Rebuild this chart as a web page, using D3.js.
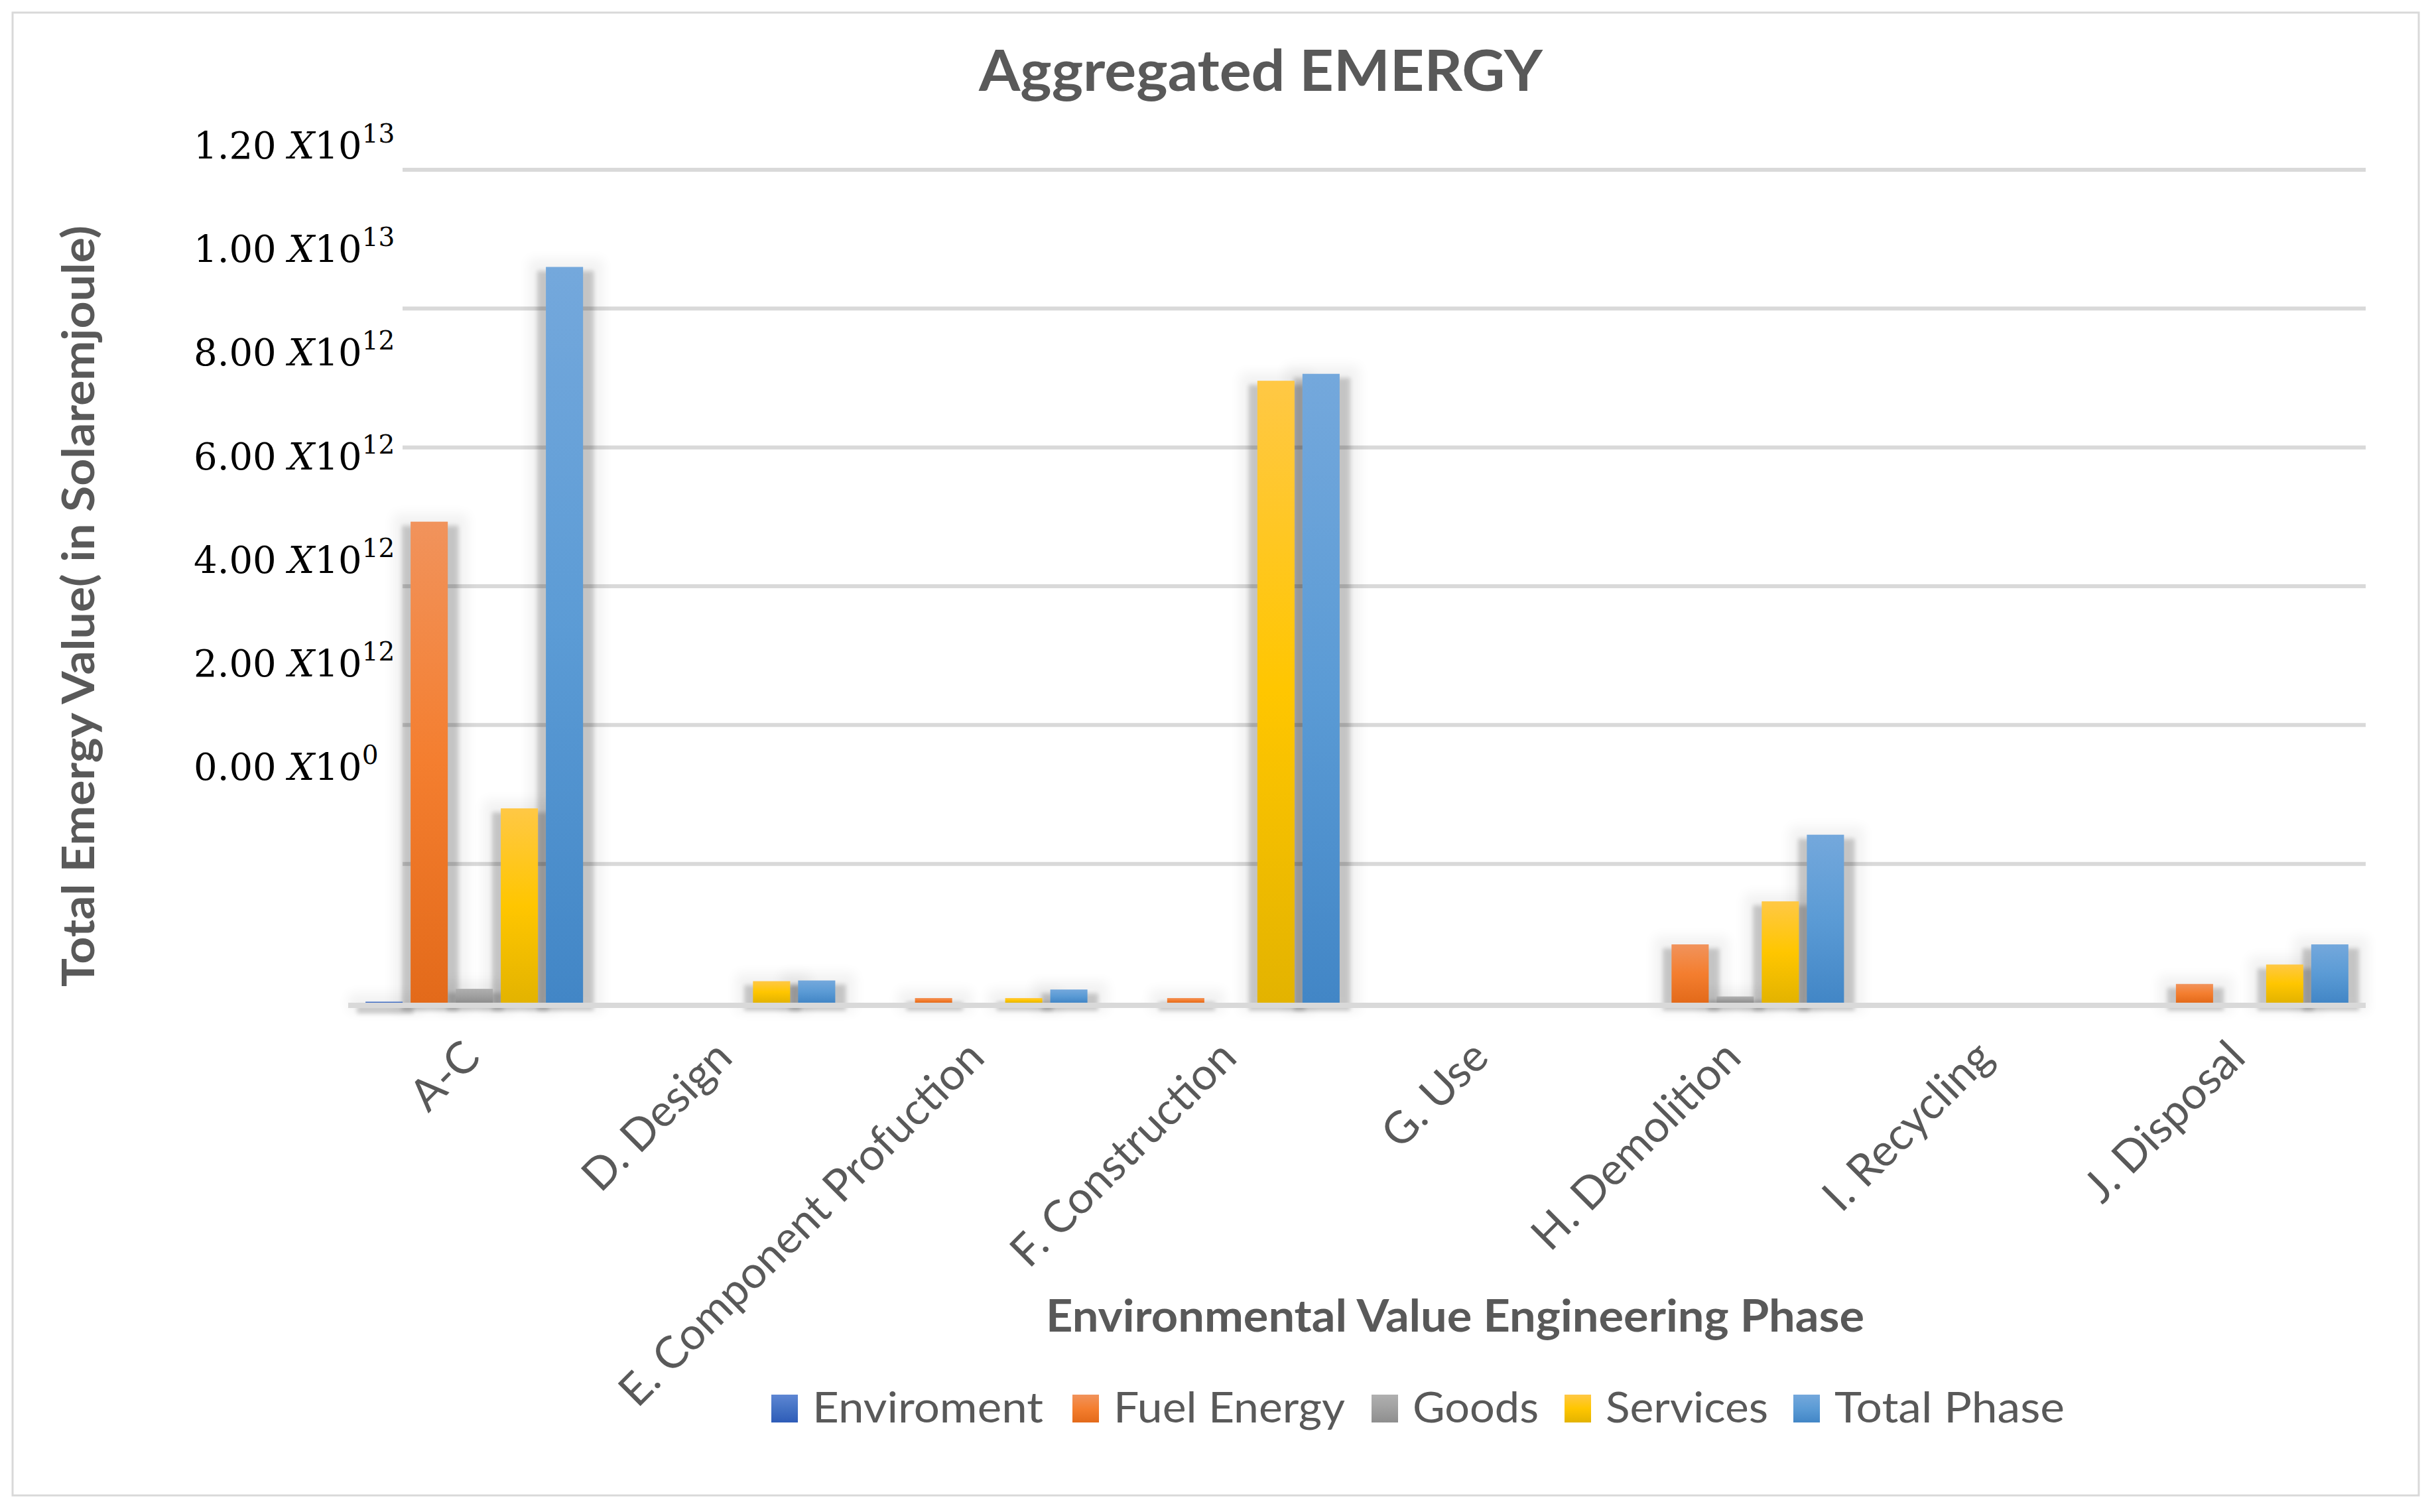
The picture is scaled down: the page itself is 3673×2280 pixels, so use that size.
<!DOCTYPE html>
<html><head><meta charset="utf-8">
<script src="https://cdn.jsdelivr.net/npm/d3@7"></script>
<style>body{margin:0;background:#fff;} svg{display:block}</style>
</head><body>
<svg id="chart" width="3673" height="2280"></svg>
<script>
// ---------- DATA ----------
const categories = ["A-C","D. Design","E. Component Profuction","F. Construction","G. Use","H. Demolition","I. Recycling","J. Disposal"];
const seriesNames = ["Enviroment","Fuel Energy","Goods","Services","Total Phase"];
const enviroment = [0.015e12, 0, 0, 0, 0, 0, 0, 0];
const fuelEnergy = [6.93e12, 0, 0.067e12, 0.067e12, 0, 0.84e12, 0, 0.27e12];
const goods      = [0.20e12, 0, 0, 0, 0, 0.09e12, 0, 0];
const services   = [2.80e12, 0.31e12, 0.067e12, 8.96e12, 0, 1.46e12, 0, 0.55e12];
const totalPhase = [10.6e12, 0.32e12, 0.19e12, 9.06e12, 0, 2.42e12, 0, 0.84e12];
const gridValues = [2e12, 4e12, 6e12, 8e12, 10e12, 12e12];
const yLabelValues = [0, 2e12, 4e12, 6e12, 8e12, 10e12, 12e12];
const yLabelMantissa = ["0.00","2.00","4.00","6.00","8.00","1.00","1.20"];
const yLabelExponent = ["0","12","12","12","12","13","13"];
const titleText = "Aggregated EMERGY";
const yTitleText = "Total Emergy Value( in Solaremjoule)";
const xTitleText = "Environmental Value Engineering Phase";

const seriesValues = [enviroment, fuelEnergy, goods, services, totalPhase];
const gradStops = [
  ["#5E86D3","#4472C4","#2E5CB8"],
  ["#F1935C","#F47E2F","#E36A1A"],
  ["#B0B0B0","#A0A0A0","#8E8E8E"],
  ["#FFC845","#FFC600","#E3B300"],
  ["#74A8DC","#5B9BD5","#4286C6"]
];

const svg = d3.select("#chart");
const defs = svg.append("defs");
seriesNames.forEach((s,i)=>{
  const g = defs.append("linearGradient").attr("id","grad"+i)
    .attr("x1",0).attr("y1",0).attr("x2",0).attr("y2",1);
  g.append("stop").attr("offset","0%").attr("stop-color",gradStops[i][0]);
  g.append("stop").attr("offset","50%").attr("stop-color",gradStops[i][1]);
  g.append("stop").attr("offset","100%").attr("stop-color",gradStops[i][2]);
});
const f1 = defs.append("filter").attr("id","blurA").attr("x","-50%").attr("y","-50%").attr("width","200%").attr("height","200%");
f1.append("feGaussianBlur").attr("stdDeviation",3);
const f2 = defs.append("filter").attr("id","blurB").attr("x","-50%").attr("y","-50%").attr("width","200%").attr("height","200%");
f2.append("feGaussianBlur").attr("stdDeviation",9);

// background + border
svg.append("rect").attr("x",19).attr("y",19).attr("width",3628).attr("height",2236)
  .attr("fill","#fff").attr("stroke","#d9d9d9").attr("stroke-width",3);

// scales
const plotL = 525, plotR = 3567, gridL = 607;
const x0 = d3.scaleBand().domain(categories).range([plotL, plotR]).padding(0);
const bw = x0.bandwidth();
const groupW = 340;
const x1 = d3.scaleBand().domain(seriesNames).range([(bw-groupW)/2, (bw+groupW)/2])
  .paddingInner(0.176).paddingOuter(0.088);
const y = d3.scaleLinear().domain([0, 1.2e13]).range([1512, 256]);
const yLab = d3.scaleLinear().domain([0, 1.2e13]).range([1176, 239]);

// gridlines
svg.append("g").selectAll("line").data(gridValues).join("line")
  .attr("x1",gridL).attr("x2",plotR).attr("y1",d=>y(d)).attr("y2",d=>y(d))
  .attr("stroke","#d9d9d9").attr("stroke-width",6);

// bar data
const bars = [];
categories.forEach((c,ci)=>{
  seriesNames.forEach((s,si)=>{
    bars.push({c, s, si, v: seriesValues[si][ci]});
  });
});
const nz = bars.filter(d=>d.v>0);

// shadows
const sh = svg.append("g");
sh.selectAll("rect.halo").data(nz).join("rect").attr("class","halo")
  .attr("x",d=>x0(d.c)+x1(d.s)-26).attr("width",x1.bandwidth()+56)
  .attr("y",d=>y(d.v)-12).attr("height",d=>y(0)-y(d.v)+26)
  .attr("fill","#000").attr("opacity",0.05).attr("filter","url(#blurB)");
sh.selectAll("rect.core").data(nz).join("rect").attr("class","core")
  .attr("x",d=>x0(d.c)+x1(d.s)-13).attr("width",x1.bandwidth()+29)
  .attr("y",d=>y(d.v)+6).attr("height",d=>Math.max(0,y(0)-y(d.v)-6)+12)
  .attr("fill","#000").attr("opacity",0.18).attr("filter","url(#blurA)");

// baseline
svg.append("line").attr("x1",plotL).attr("x2",plotR).attr("y1",y(0)+4).attr("y2",y(0)+4)
  .attr("stroke","#d9d9d9").attr("stroke-width",8);

// bars
svg.append("g").selectAll("rect").data(nz).join("rect")
  .attr("x",d=>x0(d.c)+x1(d.s)).attr("width",x1.bandwidth())
  .attr("y",d=>y(d.v)).attr("height",d=>Math.max(1.5,y(0)-y(d.v)))
  .attr("fill",d=>"url(#grad"+d.si+")");

// y labels (overlay style)
const yl = svg.append("g").attr("font-family","'DejaVu Serif', serif").attr("fill","#000");
yLabelValues.forEach((v,i)=>{
  const t = yl.append("text").attr("x",292).attr("y",yLab(v)).attr("font-size",56);
  t.append("tspan").text(yLabelMantissa[i]+" ");
  t.append("tspan").attr("font-style","italic").text("X");
  t.append("tspan").text("10");
  t.append("tspan").attr("font-size",39).attr("dy",-24).text(yLabelExponent[i]);
});

// x tick labels
const xl = svg.append("g").attr("font-family","Lato, sans-serif").attr("fill","#595959").attr("font-size",67);
xl.selectAll("text").data(categories).join("text")
  .attr("text-anchor","end")
  .attr("transform",d=>`translate(${x0(d)+bw/2+12},${y(0)+86}) rotate(-45)`)
  .text(d=>d);

// titles
svg.append("text").attr("x",1901).attr("y",137).attr("text-anchor","middle")
  .attr("font-family","Lato, sans-serif").attr("font-weight","bold").attr("font-size",86)
  .attr("fill","#595959").attr("textLength",850).attr("lengthAdjust","spacingAndGlyphs").text(titleText);
svg.append("text").attr("transform","translate(142,914) rotate(-90)").attr("text-anchor","middle")
  .attr("font-family","Lato, sans-serif").attr("font-weight","bold").attr("font-size",66)
  .attr("fill","#595959").attr("textLength",1148).attr("lengthAdjust","spacingAndGlyphs").text(yTitleText);
svg.append("text").attr("x",2194).attr("y",2008).attr("text-anchor","middle")
  .attr("font-family","Lato, sans-serif").attr("font-weight","bold").attr("font-size",66)
  .attr("fill","#595959").attr("textLength",1234).attr("lengthAdjust","spacingAndGlyphs").text(xTitleText);

// legend
const legX = [1163, 1617, 2068, 2359, 2704];
const legW = [348, 349, 190, 245, 347];
const lg = svg.append("g").attr("font-family","Lato, sans-serif").attr("font-size",64).attr("fill","#595959");
seriesNames.forEach((s,i)=>{
  lg.append("rect").attr("x",legX[i]).attr("y",2103).attr("width",40).attr("height",42).attr("fill","url(#grad"+i+")");
  lg.append("text").attr("x",legX[i]+62).attr("y",2145).attr("textLength",legW[i]).attr("lengthAdjust","spacingAndGlyphs").text(s);
});
</script>
</body></html>
